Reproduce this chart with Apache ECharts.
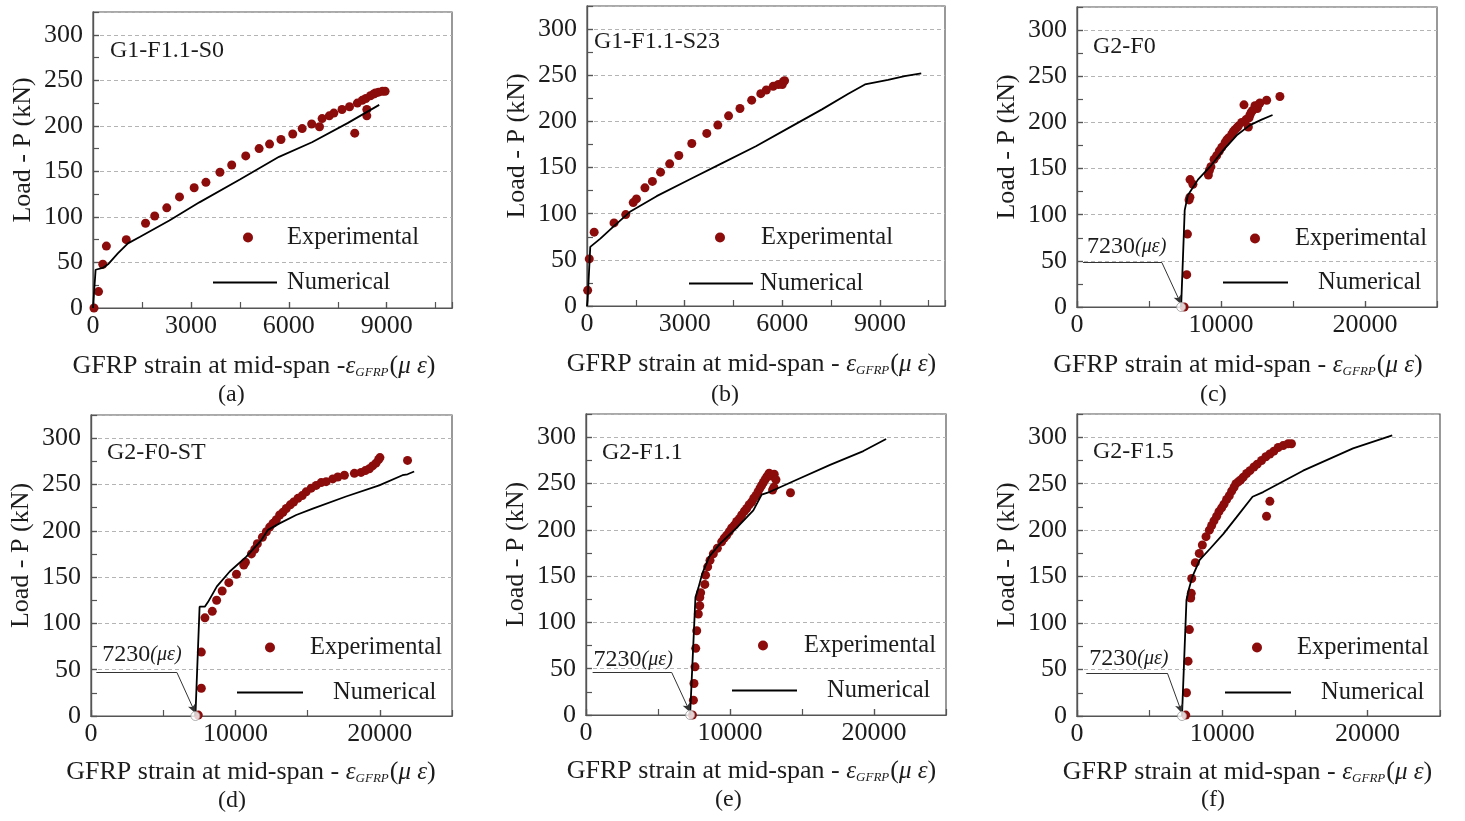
<!DOCTYPE html>
<html>
<head>
<meta charset="utf-8">
<script src="https://cdn.jsdelivr.net/npm/echarts@6/dist/echarts.min.js"></script>
<style>
  html, body { margin: 0; padding: 0; background: #ffffff; }
  #chart { width: 1465px; height: 821px; }
</style>
</head>
<body>
<div id="chart"></div>
<script>
// ---- Data: load P (kN) versus GFRP strain at mid-span (microstrain) ----
const ONSET_STRAIN = 7230;

const panelTitles = ['G1-F1.1-S0', 'G1-F1.1-S23', 'G2-F0', 'G2-F0-ST', 'G2-F1.1', 'G2-F1.5'];
const panelCaptions = ['(a)', '(b)', '(c)', '(d)', '(e)', '(f)'];
const loadTicks = [0, 50, 100, 150, 200, 250, 300];

const expA = [[30,0],[170,18],[300,48],[410,68],[1020,75],[1610,93],[1890,101],[2260,110],[2650,122],[3100,132],[3460,138],[3890,149],[4250,157],[4680,167],[5090,175],[5410,180],[5760,185],[6120,191],[6410,197],[6700,202],[6940,199],[7020,208],[7240,211],[7380,214],[7630,218],[7860,221],[8020,192],[8100,225],[8250,228],[8360,230],[8390,218],[8390,211],[8500,233],[8600,235],[8650,236],[8750,237],[8870,238],[8950,238]];
const numA = [[0,0],[80,42],[300,44],[460,48],[760,60],[1070,71],[1430,78],[2340,96],[3260,116],[4500,141],[5700,166],[6710,182],[7800,203],[8770,223]];

const expB = [[20,17],[70,51],[220,80],[830,90],[1190,99],[1420,112],[1520,116],[1780,128],[2010,135],[2260,145],[2540,154],[2820,163],[3220,176],[3680,187],[4020,196],[4350,206],[4700,214],[5060,223],[5340,230],[5510,234],[5720,238],[5880,240],[6000,240],[6030,243],[6070,244]];
const numB = [[0,0],[20,7],[100,64],[150,65],[410,73],[810,86],[1320,102],[2140,119],[3150,137],[4170,155],[5190,173],[6200,193],[7220,213],[8030,230],[8540,240],[9250,245],[9760,249],[10270,252]];

const expC = [[7440,0],[7620,35],[7670,79],[7780,116],[7840,119],[7850,138],[8050,133],[9125,143],[9194,148],[9300,152],[9517,160],[9700,164],[9887,169],[10050,173],[10280,178],[10400,181],[10510,183],[10740,187],[10850,190],[10970,192],[11100,194],[11200,196],[11435,200],[11596,219],[11735,203],[11900,195],[11950,205],[12010,208],[12100,211],[12200,213],[12360,218],[12520,215],[12600,219],[12700,221],[13170,224],[14090,228]];
const numC = [[7230,0],[7350,50],[7480,105],[7700,121],[8400,138],[9240,152],[10160,170],[11090,186],[12010,197],[12820,203],[13580,208]];

const expD = [[7430,1],[7640,30],[7640,69],[7890,106],[8400,113],[8700,125],[9085,135],[9545,144],[10074,153],[10580,163],[10695,166],[11110,175],[11340,180],[11520,186],[11870,193],[12144,199],[12374,204],[12604,208],[12834,212],[13064,217],[13294,220],[13524,224],[13800,228],[14030,231],[14330,235],[14630,238],[14900,242],[15250,246],[15594,249],[15940,252],[16284,253],[16744,256],[17090,258],[17550,260],[18240,262],[18700,263],[19000,265],[19274,267],[19500,270],[19734,273],[19918,277],[20010,279],[21920,276]];
const numD = [[7230,0],[7520,118],[7880,118],[8100,123],[8720,140],[9610,156],[10760,172],[11800,190],[12260,201],[13060,208],[14210,217],[15360,224],[17660,237],[19960,249],[21570,260],[21920,261],[22380,264]];

const expE = [[7390,0],[7460,16],[7500,34],[7570,52],[7620,72],[7690,91],[7800,109],[7900,118],[7900,127],[7960,132],[8250,141],[8300,151],[8450,160],[8612,167],[8843,174],[9121,180],[9422,187],[9600,191],[9770,194],[9950,198],[10116,202],[10300,205],[10464,209],[10650,212],[10811,216],[11000,220],[11158,223],[11330,227],[11505,230],[11650,234],[11806,237],[11950,241],[12084,245],[12200,248],[12316,251],[12430,254],[12547,257],[12650,259],[12720,261],[12900,258],[13070,260],[13190,254],[12955,243],[13050,246],[14200,240]];
const numE = [[7230,0],[7600,127],[7800,137],[8080,153],[8560,171],[9310,185],[10460,202],[11620,221],[12200,238],[12780,241],[14630,254],[16950,270],[19260,285],[20840,298]];

const expF = [[7490,1],[7540,25],[7650,59],[7740,93],[7830,127],[7870,132],[7900,148],[8150,165],[8420,175],[8633,184],[8885,193],[9114,200],[9275,205],[9435,210],[9618,215],[9778,220],[9962,224],[10122,228],[10305,233],[10488,237],[10650,242],[10810,246],[10946,250],[11106,252],[11266,254],[11450,257],[11680,261],[11910,264],[12183,268],[12412,271],[12710,275],[13007,279],[13282,282],[13557,285],[13855,289],[14200,291],[14540,293],[14770,293],[13053,215],[13282,231]];
const numF = [[7230,0],[7540,125],[7680,135],[7950,150],[8450,168],[9160,180],[10080,196],[10990,214],[12090,236],[12820,241],[15570,264],[19010,288],[21710,302]];

// leader from the "7230(με)" note down to the onset point
const leaderC = [[420,48],[5900,48]];
const leaderD = [[370,47],[5950,47]];
const leaderE = [[460,46],[5950,46]];
const leaderF = [[640,46],[6230,46]];

const experimental = [expA, expB, expC, expD, expE, expF];
const numerical = [numA, numB, numC, numD, numE, numF];
const leaders = [null, null, leaderC, leaderD, leaderE, leaderF];
const strainMax = [11000, 11000, 25000, 25000, 25000, 25000];
const strainStep = [3000, 3000, 10000, 10000, 10000, 10000];
const LOAD_MAX = 325;

// ---- Layout and styling ----
const SERIF = '"Liberation Serif", "Times New Roman", Times, serif';
const FRAME = '#555555';
const INK = '#1c1c1c';
const RED = '#8c0c0c';

const layouts = [
  { grid: {left: 93, top: 12, width: 359, height: 296}, title: [110, 39], cap: [218, 383], xPad: 37, xGap: 45, dash: '-',
    exp: {cx: 248, cy: 237, text: 287}, num: {x0: 213, x1: 277, cy: 282, text: 287} },
  { grid: {left: 587, top: 6, width: 358, height: 300}, title: [594, 30], cap: [711, 383], xPad: 29, xGap: 45, dash: '- ',
    exp: {cx: 720, cy: 237, text: 761}, num: {x0: 689, x1: 753, cy: 283, text: 760} },
  { grid: {left: 1077, top: 7, width: 360, height: 300}, title: [1093, 35], cap: [1200, 383], xPad: 38, xGap: 45, dash: '- ',
    exp: {cx: 1255, cy: 238, text: 1295}, num: {x0: 1223, x1: 1288, cy: 282, text: 1318}, noteDist: 4 },
  { grid: {left: 91, top: 415, width: 361, height: 301}, title: [107, 441], cap: [218, 789], xPad: 41, xGap: 43, dash: '- ',
    exp: {cx: 270, cy: 647, text: 310}, num: {x0: 237, x1: 303, cy: 692, text: 333}, noteDist: 6 },
  { grid: {left: 586, top: 414, width: 360, height: 301}, title: [602, 441], cap: [715, 788], xPad: 29, xGap: 43, dash: '- ',
    exp: {cx: 763, cy: 645, text: 804}, num: {x0: 732, x1: 797, cy: 690, text: 827}, noteDist: 1 },
  { grid: {left: 1077, top: 414, width: 363, height: 302}, title: [1093, 440], cap: [1201, 788], xPad: 22, xGap: 43, dash: '- ',
    exp: {cx: 1257, cy: 647, text: 1297}, num: {x0: 1225, x1: 1291, cy: 692, text: 1321}, noteDist: 3 }
];

const nameRich = {
  n: {fontFamily: SERIF, fontSize: 26, color: INK},
  e: {fontFamily: SERIF, fontSize: 25, fontStyle: 'italic', color: INK},
  s: {fontFamily: SERIF, fontSize: 13, fontStyle: 'italic', color: INK, padding: [13, 1, 0, 0]}
};

const plainNumber = v => String(v);
const innerTick = {show: true, inside: true, length: 6, lineStyle: {color: FRAME, width: 1.2}};

const option = {
  animation: false,
  backgroundColor: '#ffffff',
  textStyle: {fontFamily: SERIF},
  title: [], legend: [], grid: [], xAxis: [], yAxis: [], series: []
};

panelTitles.forEach((title, i) => {
  const L = layouts[i];
  option.grid.push(Object.assign({}, L.grid, {
    show: true, borderColor: FRAME, borderWidth: 1.2, backgroundColor: 'transparent'
  }));

  const xi = option.xAxis.length;
  const yi = option.yAxis.length;

  // labelled strain axis
  option.xAxis.push({
    type: 'value', gridIndex: i, position: 'bottom', min: 0, max: strainMax[i], interval: strainStep[i],
    axisLine: {show: true, onZero: false, lineStyle: {color: FRAME, width: 1.2}},
    axisTick: innerTick, splitLine: {show: false},
    axisLabel: {fontFamily: SERIF, fontSize: 26, color: INK, margin: 5, showMaxLabel: false, formatter: plainNumber},
    name: '{n|GFRP strain at mid-span ' + L.dash + '}{e|ε}{s|GFRP}{n|(}{e|μ ε}{n|)}',
    nameLocation: 'middle', nameGap: L.xGap,
    nameTextStyle: {fontFamily: SERIF, fontSize: 26, color: INK, padding: [0, L.xPad, 0, 0], rich: nameRich}
  });
  // tick-only strain axis (ticks at half steps, pointing inward)
  option.xAxis.push({
    type: 'value', gridIndex: i, position: 'bottom', min: 0, max: strainMax[i], interval: strainStep[i] / 2,
    axisLine: {show: true, onZero: false, lineStyle: {color: FRAME, width: 1.2}},
    axisLabel: {show: false}, splitLine: {show: false},
    axisTick: innerTick
  });

  // labelled load axis
  option.yAxis.push({
    type: 'value', gridIndex: i, position: 'left', min: loadTicks[0], max: LOAD_MAX, interval: loadTicks[1] - loadTicks[0],
    axisLine: {show: true, onZero: false, lineStyle: {color: FRAME, width: 1.2}},
    axisTick: innerTick,
    splitLine: {show: true, lineStyle: {color: '#b4b4b4', width: 1, type: [4, 3]}},
    axisLabel: {fontFamily: SERIF, fontSize: 26, color: INK, margin: 10, showMaxLabel: false, formatter: plainNumber},
    name: 'Load - P (kN)', nameLocation: 'middle', nameGap: 57,
    nameTextStyle: {fontFamily: SERIF, fontSize: 26, color: INK, padding: [0, 0, 0, 20]}
  });
  // tick-only load axis
  option.yAxis.push({
    type: 'value', gridIndex: i, position: 'left', min: loadTicks[0], max: LOAD_MAX, interval: (loadTicks[1] - loadTicks[0]) / 2,
    axisLine: {show: true, onZero: false, lineStyle: {color: FRAME, width: 1.2}},
    axisLabel: {show: false}, splitLine: {show: false},
    axisTick: innerTick
  });

  option.title.push({
    text: title, left: L.title[0], top: L.title[1], padding: 0,
    textStyle: {fontFamily: SERIF, fontSize: 24, fontWeight: 'normal', color: INK}
  });
  option.title.push({
    text: panelCaptions[i], left: L.cap[0], top: L.cap[1], padding: 0,
    textStyle: {fontFamily: SERIF, fontSize: 24, fontWeight: 'normal', color: INK}
  });

  option.series.push({
    type: 'scatter', name: 'Experimental', xAxisIndex: xi, yAxisIndex: yi,
    data: experimental[i], symbol: 'circle', symbolSize: 9,
    itemStyle: {color: RED, opacity: 1}, z: 3
  });
  option.series.push({
    type: 'line', name: 'Numerical', xAxisIndex: xi, yAxisIndex: yi,
    data: numerical[i], symbol: 'none', showSymbol: false, smooth: false,
    lineStyle: {color: '#000000', width: 1.8}, itemStyle: {color: '#000000'}, z: 4
  });

  if (leaders[i]) {
    const lead = leaders[i];
    option.series.push({
      type: 'line', name: 'onset-note', xAxisIndex: xi, yAxisIndex: yi, data: [], silent: true, z: 5,
      markLine: {
        silent: true, animation: false, symbol: ['none', 'none'],
        lineStyle: {color: '#333333', width: 1, type: 'solid'},
        label: {show: false},
        data: [
          [
            {coord: lead[0], label: {
              show: true, position: 'insideStartTop', distance: L.noteDist,
              formatter: '{a|' + ONSET_STRAIN + '}{b|(με)}',
              rich: {
                a: {fontFamily: SERIF, fontSize: 24, color: INK},
                b: {fontFamily: SERIF, fontSize: 20, fontStyle: 'italic', color: INK}
              }
            }},
            {coord: lead[1]}
          ],
          [
            {coord: lead[1], symbol: 'none'},
            {coord: [ONSET_STRAIN, 3], symbol: 'arrow', symbolSize: [6, 9]}
          ]
        ]
      }
    });
    option.series.push({
      type: 'scatter', name: 'onset-point', xAxisIndex: xi, yAxisIndex: yi, silent: true,
      data: [[ONSET_STRAIN, 0]], symbol: 'circle', symbolSize: 9,
      itemStyle: {color: '#ffffff', borderColor: '#9a9a9a', borderWidth: 1}, z: 6
    });
  }

  // legend: dot + label, line + label
  const legendText = {fontFamily: SERIF, fontSize: 24.5, color: INK};
  option.legend.push({
    data: [{name: 'Experimental', icon: 'circle'}],
    left: L.exp.cx - 5, top: L.exp.cy - 12, padding: 0,
    itemWidth: 10, itemHeight: 10, selectedMode: false,
    textStyle: Object.assign({padding: [0, 0, 0, L.exp.text - (L.exp.cx + 5) - 5]}, legendText)
  });
  option.legend.push({
    data: [{name: 'Numerical', icon: 'rect'}],
    left: L.num.x0, top: L.num.cy - 12, padding: 0,
    itemWidth: L.num.x1 - L.num.x0, itemHeight: 2, selectedMode: false,
    itemStyle: {color: '#000000'},
    textStyle: Object.assign({padding: [0, 0, 0, L.num.text - L.num.x1 - 5]}, legendText)
  });
});

const chart = echarts.init(document.getElementById('chart'), null, {renderer: 'canvas'});
chart.setOption(option);
</script>
</body>
</html>
